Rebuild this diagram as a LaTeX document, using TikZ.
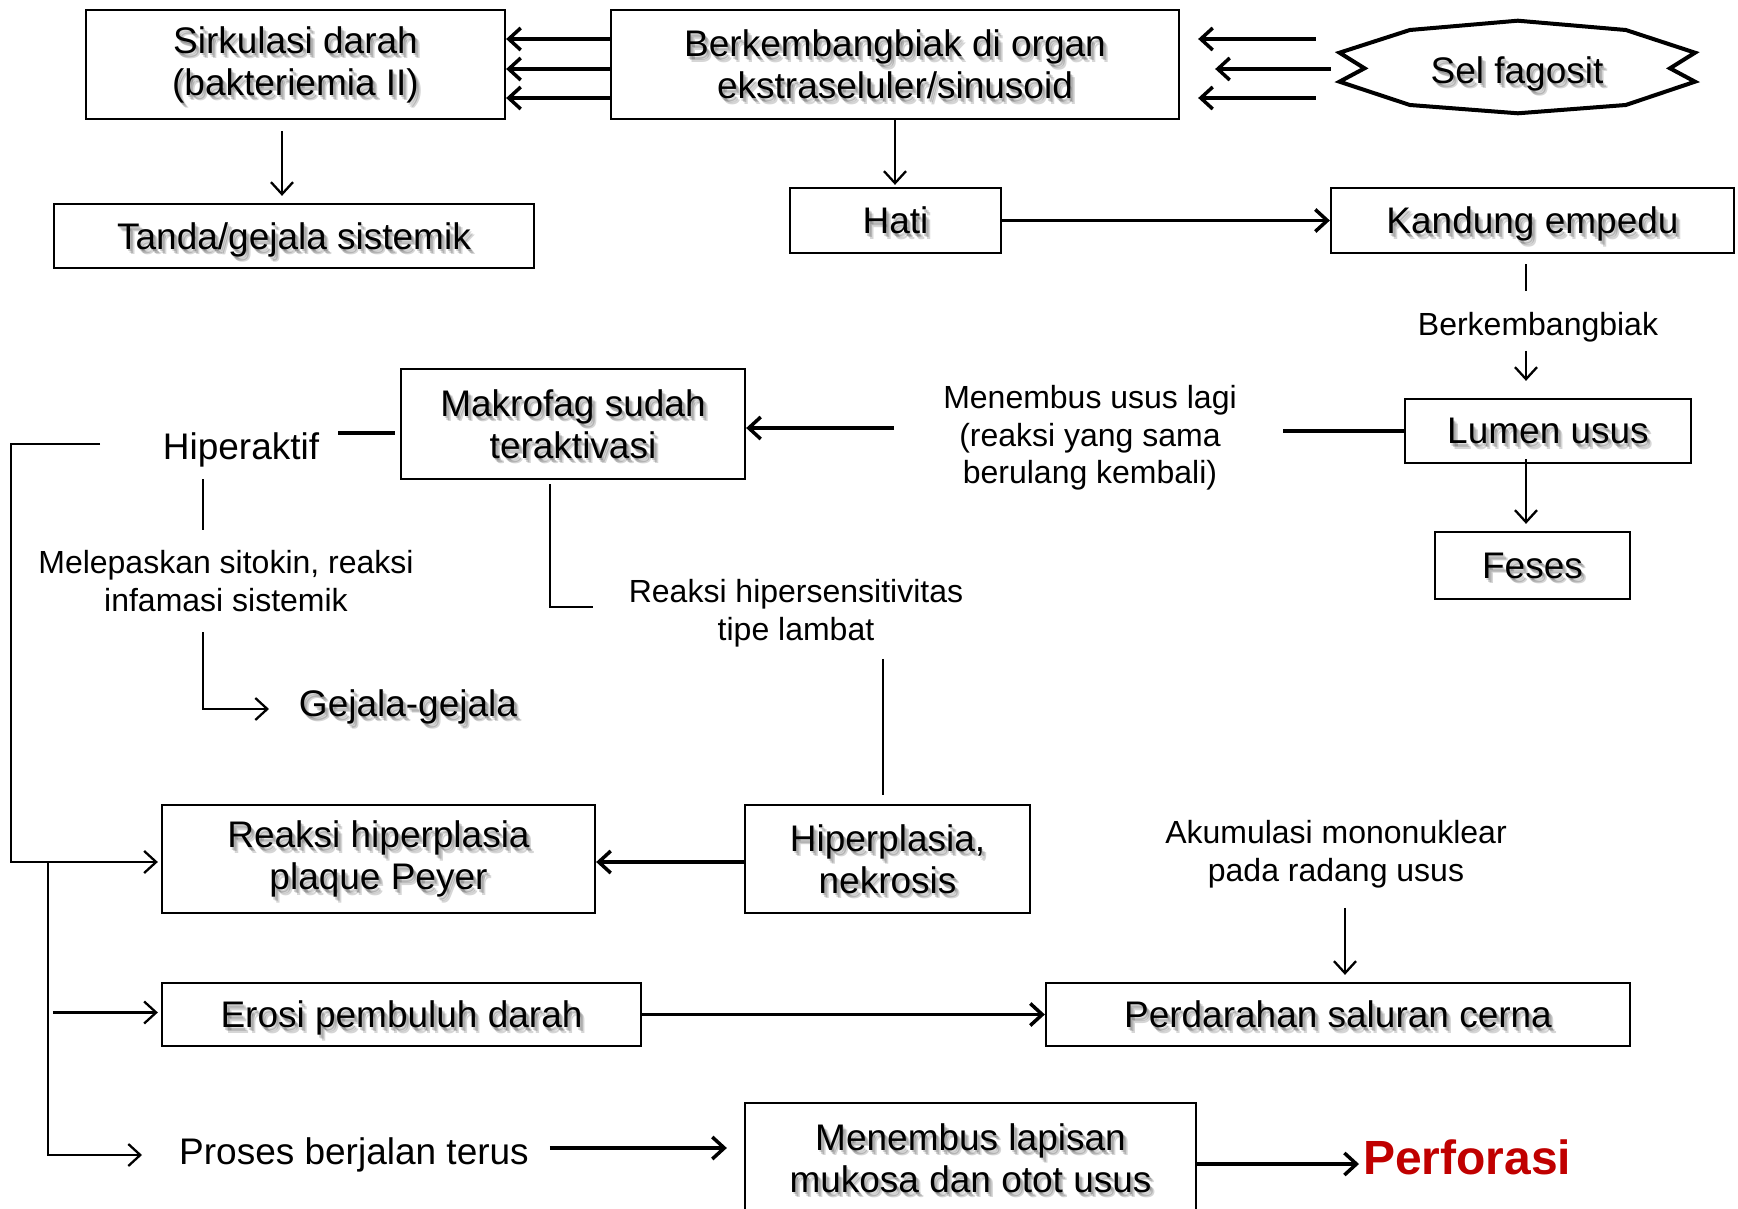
\documentclass[tikz,border=0pt]{standalone}
\usepackage{fontspec}
\setmainfont{Liberation Sans}
\usetikzlibrary{arrows.meta,calc}
\definecolor{perfred}{RGB}{192,0,0}
\newcommand\bigf{\fontsize{37}{42}\selectfont}
\newcommand\smallf{\fontsize{32}{37.5}\selectfont}
\newcommand\perff{\fontsize{48}{54}\selectfont\bfseries}
% shadowed node: #1 options, #2 name, #3 position, #4 text
\newcommand\shnode[4]{%
  \foreach \dx/\dy in {1.5/2.5,3/4,4.5/5.5}
    \node[#1,draw=none,text opacity=0.16] at ($#3+(\dx,\dy)$) {#4};
  \node[#1] (#2) at #3 {#4};}
\begin{document}
\begin{tikzpicture}[x=1pt,y=-1pt,
  box/.style={draw,line width=2.3pt,align=center,inner sep=0pt,font=\bigf},
  one/.style={text depth=0pt},
  lbl/.style={align=center,inner sep=0pt,font=\smallf},
  blbl/.style={align=center,inner sep=0pt,font=\bigf},
  ln/.style={line width=2.3pt},
  tk/.style={line width=3.5pt},
  arr/.style={-{Straight Barb[length=12pt,width=22pt]}}]
\useasboundingbox (0,0) rectangle (1738,1209);

% nodes
\shnode{box,minimum width=419pt,minimum height=109pt}{sirk}{(295.5,64.5)}{Sirkulasi darah\\(bakteriemia II)}
\shnode{box,minimum width=568pt,minimum height=109pt}{berk}{(895,64.5)}{Berkembangbiak di organ\\ekstraseluler/sinusoid}
\shnode{blbl,one,minimum width=356pt,minimum height=92pt}{fag}{(1517,70)}{Sel fagosit}
\draw[line width=4pt,line join=miter]
  (1339.5,52.7) -- (1409.9,30) -- (1517.8,20.7) -- (1625.8,30) -- (1695,52.7)
  -- (1670,68.3) -- (1695,81.7) -- (1625.8,105) -- (1517.8,113.3)
  -- (1409.9,105) -- (1339.5,81.7) -- (1364.5,68.3) -- cycle;
\shnode{box,one,minimum width=480pt,minimum height=64pt}{tanda}{(294,236)}{Tanda/gejala sistemik}
\shnode{box,one,minimum width=211pt,minimum height=65pt}{hati}{(895.5,220.5)}{Hati}
\shnode{box,one,minimum width=403pt,minimum height=65pt}{kand}{(1532.5,220.5)}{Kandung empedu}
\node[lbl,one] (bb) at (1538,324) {Berkembangbiak};
\shnode{box,one,minimum width=286pt,minimum height=64pt}{lumen}{(1548,431)}{Lumen usus}
\shnode{box,one,minimum width=195pt,minimum height=67pt}{feses}{(1532.5,565.5)}{Feses}
\node[lbl] (menu) at (1090,438) {Menembus usus lagi\\(reaksi yang sama\\berulang kembali)};
\shnode{box,minimum width=344pt,minimum height=110pt}{makro}{(573,424)}{Makrofag sudah\\teraktivasi}
\node[blbl,one] (hiper) at (241,446) {Hiperaktif};
\node[lbl] (melep) at (226,581) {Melepaskan sitokin, reaksi\\infamasi sistemik};
\shnode{blbl,one}{gejala}{(408,703)}{Gejala-gejala}
\node[lbl] (rhs) at (796,613) {Reaksi hipersensitivitas\\tipe lambat};
\shnode{box,minimum width=285pt,minimum height=108pt}{hpl}{(887.5,859)}{Hiperplasia,\\nekrosis}
\shnode{box,minimum width=433pt,minimum height=108pt}{rpp}{(378.5,859)}{Reaksi hiperplasia\\plaque Peyer}
\shnode{box,one,minimum width=479pt,minimum height=63pt}{erosi}{(401.5,1014.5)}{Erosi pembuluh darah}
\shnode{box,one,minimum width=584pt,minimum height=63pt}{perd}{(1338,1014.5)}{Perdarahan saluran cerna}
\node[lbl] (akum) at (1336,854) {Akumulasi mononuklear\\pada radang usus};
\node[blbl,one] (proses) at (354,1151) {Proses berjalan terus};
\shnode{box,minimum width=451pt,minimum height=110pt}{menem}{(970.5,1158)}{Menembus lapisan\\mukosa dan otot usus}
\node[blbl,anchor=west,font=\perff,text=perfred] (perf) at (1363,1157) {Perforasi};

% connectors
\foreach \d in {-25.5,4.5,33.5}
  \draw[tk,arr] ($(berk.west)+(0,\d)$) -- ($(sirk.east)+(0,\d)$);
\draw[tk,arr] ($(fag.west)+(-23,-31)$) -- ($(berk.east)+(18,-25.5)$);
\draw[tk,arr] ($(fag.west)+(-8,-1)$) -- ($(berk.east)+(35,4.5)$);
\draw[tk,arr] ($(fag.west)+(-23,28)$) -- ($(berk.east)+(18,33.5)$);
\draw[ln,arr] ($(sirk.south)+(-13.5,11)$) -- ($(tanda.north)+(-12,-7)$);
\draw[ln,arr] (berk.south) -- ($(hati.north)+(-0.5,-2)$);
\draw[tk,arr] (hati.east) -- (kand.west);
\draw[ln] ($(kand.south)+(-6.5,10)$) -- ($(kand.south)+(-6.5,37)$);
\draw[ln,arr] ($(lumen.north)+(-22,-47)$) -- ($(lumen.north)+(-22,-17)$);
\draw[ln,arr] ($(lumen.south)+(-22,-5)$) -- ($(feses.north)+(-6.5,-7)$);
\draw[tk] (lumen.west) -- ($(lumen.west)+(-121,0)$);
\draw[tk,arr] ($(makro.east)+(148,4)$) -- ($(makro.east)+(0,4)$);
\draw[tk] ($(makro.west)+(-5,9)$) -- ($(makro.west)+(-62,9)$);
\draw[ln,arr] ($(hiper.center)+(-141,-2)$) -- ($(hiper.center)+(-230,-2)$) |- ($(rpp.west)+(-3,3)$);
\draw[ln] ($(hiper.center)+(-38,33)$) -- ($(hiper.center)+(-38,84)$);
\draw[ln,arr] ($(melep.center)+(-23,51)$) |- ($(gejala.center)+(-139,6)$);
\draw[ln] ($(makro.south)+(-23,4)$) |- ($(rhs.center)+(-203,-6)$);
\draw[ln] ($(hpl.north)+(-4.5,-145)$) -- ($(hpl.north)+(-4.5,-9)$);
\draw[tk,arr] ($(hpl.west)+(0,3)$) -- ($(rpp.east)+(0,3)$);
\draw[ln,arr] ($(rpp.west)+(-113,3)$) |- ($(proses.center)+(-212,4)$);
\draw[ln,arr] ($(erosi.west)+(-108,-2)$) -- ($(erosi.west)+(-3,-2)$);
\draw[tk,arr] (erosi.east) -- (perd.west);
\draw[ln,arr] ($(perd.north)+(7,-74)$) -- ($(perd.north)+(7,-7)$);
\draw[tk,arr] ($(menem.west)+(-194,-10)$) -- ($(menem.west)+(-17,-10)$);
\draw[tk,arr] ($(menem.east)+(0,6)$) -- ($(perf.west)+(-4,7)$);
\end{tikzpicture}
\end{document}
